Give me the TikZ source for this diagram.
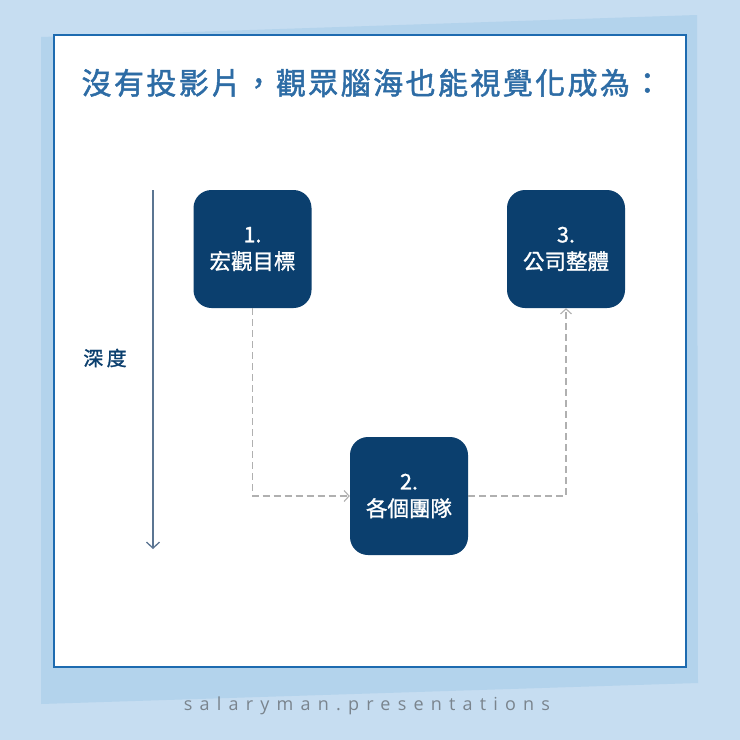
\documentclass[tikz,border=0pt]{standalone}
\usepackage{fontspec}
\usetikzlibrary{arrows.meta,positioning}
\newfontfamily\cjk{Noto Sans CJK TC}
\newfontfamily\cjkmed[FakeBold=1.2]{Noto Sans CJK TC}
\newfontfamily\cjktitle[FakeBold=1.6,LetterSpace=8]{Noto Sans CJK TC}
\newfontfamily\footfont[LetterSpace=40]{Open Sans}
\definecolor{bgblue}{HTML}{C6DDF1}
\definecolor{quadblue}{HTML}{B3D3EC}
\definecolor{frameblue}{HTML}{1E6BB0}
\definecolor{boxnavy}{HTML}{0B3F6E}
\definecolor{titleblue}{HTML}{2D6CA5}
\definecolor{arrowgray}{HTML}{5B7592}
\definecolor{dashgray}{HTML}{B0B0B0}
\definecolor{footgray}{HTML}{7A848D}
\tikzset{
  stepbox/.style={rectangle, rounded corners=18pt, fill=boxnavy, minimum width=118pt, minimum height=118pt, text=white, align=center, font=\cjkmed\fontsize{21.5}{27}\selectfont, inner sep=0pt},
  flowline/.style={dashgray, line width=1.1pt, dash pattern=on 7pt off 4pt, -{Straight Barb[length=5pt,width=11pt]}},
}
\begin{document}
\begin{tikzpicture}[x=1pt,y=-1pt]
\useasboundingbox (0,0) rectangle (740,740);
\fill[bgblue] (0,0) rectangle (740,740);
\fill[quadblue] (41,37) -- (697,15) -- (698,683) -- (41,704) -- cycle;
\draw[frameblue, line width=2pt, fill=white] (54,35) rectangle (686,667);
\node[text=titleblue, font=\cjktitle\fontsize{30}{34}\selectfont] (title) at (372,83) {沒有投影片，觀眾腦海也能視覺化成為：};
\node[stepbox] (s1) at (252.5,249) {1.\\宏觀目標};
\node[stepbox] (s3) at (566,249) {3.\\公司整體};
\node[stepbox] (s2) at (409,496) {2.\\各個團隊};
\coordinate (dtop) at (153,190);
\coordinate (dbot) at (153,549);
\draw[arrowgray, line width=1.3pt, -{Straight Barb[length=6pt,width=13pt]}] (dtop) -- (dbot);
\node[text=boxnavy, font=\cjkmed\fontsize{20}{22}\selectfont] (depth) at (105,358) {深\,度};
\draw[flowline] (s1.south) |- (s2.west);
\draw[flowline] (s2.east) -| (s3.south);
\node[text=footgray, font=\footfont\fontsize{18}{20}\selectfont] (foot) at (367,706) {salaryman.presentations};
\end{tikzpicture}
\end{document}
